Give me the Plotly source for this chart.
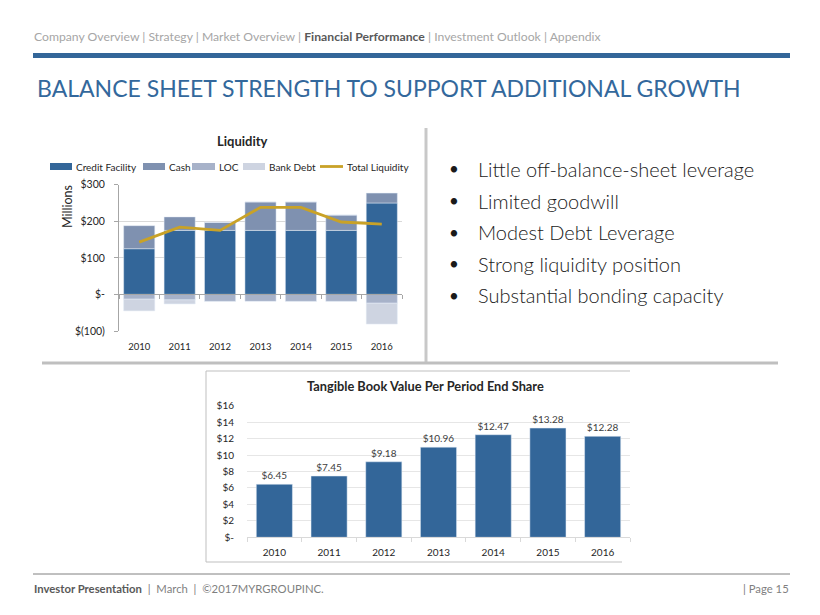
import plotly.graph_objects as go

W, H = 820, 615
OFF = 8  # page body margin: figure paper starts 8px into the window

# ---------------- data ----------------
years = ["2010", "2011", "2012", "2013", "2014", "2015", "2016"]
credit_facility = [125, 175, 175, 175, 175, 175, 250]
cash = [63, 37, 22, 78, 78, 42, 27]
loc = [-13, -15, -19, -19, -19, -19, -24]
bank_debt = [-32, -11, 0, 0, 0, 0, -57]
total_liquidity = [143, 184, 175, 238, 238, 198, 192]

liq_tickvals = [-100, 0, 100, 200, 300]
liq_ticktext = ["$(100)", "$-", "$100", "$200", "$300"]

tbv = [6.45, 7.45, 9.18, 10.96, 12.47, 13.28, 12.28]
tbv_tickvals = [0, 2, 4, 6, 8, 10, 12, 14, 16]
tbv_ticktext = ["$-", "$2", "$4", "$6", "$8", "$10", "$12", "$14", "$16"]

bullets = [
    "Little off-balance-sheet leverage",
    "Limited goodwill",
    "Modest Debt Leverage",
    "Strong liquidity position",
    "Substantial bonding capacity",
]

# ---------------- styles ----------------
FONT = "Lato, 'Open Sans', sans-serif"
BLUE = "#336699"
C_CASH = "#7F91B0"
C_LOC = "#A7B2C9"
C_BANK = "#CED4E1"
C_LINE = "#C9A227"
GRID = "#D9D9D9"


def fx(px):
    return (px - OFF) / W


def fy(py):
    return 1 - (py - OFF) / H


fig = go.Figure()

# Liquidity chart (x, y)
fig.add_trace(go.Bar(x=years, y=credit_facility, name="Credit Facility", marker_color=BLUE,
                     xaxis="x", yaxis="y", showlegend=False))
fig.add_trace(go.Bar(x=years, y=cash, name="Cash", marker_color=C_CASH,
                     xaxis="x", yaxis="y", showlegend=False))
fig.add_trace(go.Bar(x=years, y=loc, name="LOC", marker_color=C_LOC,
                     xaxis="x", yaxis="y", showlegend=False))
fig.add_trace(go.Bar(x=years, y=bank_debt, name="Bank Debt", marker_color=C_BANK,
                     xaxis="x", yaxis="y", showlegend=False))
fig.add_trace(go.Scatter(x=years, y=total_liquidity, name="Total Liquidity", mode="lines",
                         line=dict(color=C_LINE, width=2.8), xaxis="x", yaxis="y", showlegend=False))
# zero-line axis overlay (x3) carries tick marks between categories
fig.add_trace(go.Scatter(x=years, y=[None] * 7, xaxis="x3", yaxis="y", showlegend=False,
                         hoverinfo="skip"))

# Tangible book value chart (x2, y2)
fig.add_trace(go.Bar(x=years, y=tbv, marker_color=BLUE, xaxis="x2", yaxis="y2",
                     showlegend=False, text=[f"${v:.2f}" for v in tbv],
                     textposition="outside", cliponaxis=False, width=0.66,
                     textfont=dict(family=FONT, size=10, color="#404040")))

liq_x0, liq_x1 = 119, 402
liq_ytop, liq_ybot = 184.7, 331
zero_py = liq_ybot - (liq_ybot - liq_ytop) * 100 / 400

tbv_x0, tbv_x1 = 247, 630
tbv_ytop, tbv_ybot = 405.7, 537.3

liq_tick_font = dict(family=FONT, size=10.5, color="#262626")
liq_xtick_font = dict(family=FONT, size=9.5, color="#262626")
tbv_tick_font = dict(family=FONT, size=10, color="#262626")

fig.update_layout(
    width=W, height=H,
    margin=dict(l=0, r=0, t=0, b=0),
    paper_bgcolor="white", plot_bgcolor="rgba(0,0,0,0)",
    barmode="relative",
    bargap=0.23,
    font=dict(family=FONT),
    xaxis=dict(domain=[fx(liq_x0), fx(liq_x1)], anchor="y", showline=False, ticks="",
               tickfont=liq_xtick_font, showgrid=False, fixedrange=True,
               ticklabelstandoff=8, automargin=False),
    xaxis3=dict(domain=[fx(liq_x0), fx(liq_x1)], anchor="free", overlaying="x",
                position=fy(zero_py), showline=True, linecolor="#A6A6A6", linewidth=1,
                ticks="outside", tickson="boundaries", ticklen=4, tickcolor="#A6A6A6",
                showticklabels=False, showgrid=False, matches="x", automargin=False),
    yaxis=dict(domain=[fy(liq_ybot), fy(liq_ytop)], range=[-100, 300], anchor="x",
               tickvals=liq_tickvals, ticktext=liq_ticktext, tickfont=liq_tick_font,
               showgrid=True, gridcolor=GRID, gridwidth=1, zeroline=False,
               showline=True, linecolor="#A6A6A6", ticks="outside", ticklen=4,
               tickcolor="#A6A6A6", ticklabelstandoff=7, automargin=False),
    xaxis2=dict(domain=[fx(tbv_x0), fx(tbv_x1)], anchor="y2", showline=True,
                linecolor=GRID, ticks="outside", tickson="boundaries", ticklen=4,
                tickcolor=GRID, tickfont=tbv_tick_font, showgrid=False,
                ticklabelstandoff=6, automargin=False),
    yaxis2=dict(domain=[fy(tbv_ybot), fy(tbv_ytop)], range=[0, 16], anchor="x2",
                tickvals=tbv_tickvals, ticktext=tbv_ticktext, tickfont=tbv_tick_font,
                showgrid=True, gridcolor="#E6E6E6", zeroline=False, showline=False,
                ticklabelstandoff=12, automargin=False),
)

shapes = []
ann = []

# header nav
nav = ("<span style='color:#A6A6A6'>Company Overview | Strategy | Market Overview | </span>"
       "<b><span style='color:#595959'>Financial Performance</span></b>"
       "<span style='color:#A6A6A6'> | Investment Outlook | Appendix</span>")
ann.append(dict(x=fx(32), y=fy(37), xref="paper", yref="paper", text=nav, showarrow=False,
                xanchor="left", yanchor="middle", font=dict(family=FONT, size=12.2)))
shapes.append(dict(type="rect", xref="paper", yref="paper", x0=fx(33), x1=fx(790),
                   y0=fy(58), y1=fy(53), fillcolor="#336699", line=dict(width=0)))
ann.append(dict(x=fx(35), y=fy(88), xref="paper", yref="paper",
                text="BALANCE SHEET STRENGTH TO SUPPORT ADDITIONAL GROWTH", showarrow=False,
                xanchor="left", yanchor="middle", font=dict(family=FONT, size=23, color="#33689C")))

# dividers
shapes.append(dict(type="line", xref="paper", yref="paper", x0=fx(426), x1=fx(426),
                   y0=fy(128), y1=fy(362), line=dict(color="#C8C8C8", width=3)))
shapes.append(dict(type="line", xref="paper", yref="paper", x0=fx(42), x1=fx(778),
                   y0=fy(363), y1=fy(363), line=dict(color="#BFBFBF", width=3)))

# liquidity title and axis title
ann.append(dict(x=fx(243), y=fy(141), xref="paper", yref="paper", text="<b>Liquidity</b>",
                showarrow=False, xanchor="center", yanchor="middle",
                font=dict(family=FONT, size=13, color="#262626")))
ann.append(dict(x=fx(67), y=fy(206), xref="paper", yref="paper", text="Millions",
                showarrow=False, textangle=-90, xanchor="center", yanchor="middle",
                font=dict(family=FONT, size=12.5, color="#262626")))

# liquidity legend
leg_y = 166.5
legend_items = [
    ("Credit Facility", BLUE, 50, 72, "bar"),
    ("Cash", C_CASH, 143, 165, "bar"),
    ("LOC", C_LOC, 192, 215, "bar"),
    ("Bank Debt", C_BANK, 243, 265, "bar"),
    ("Total Liquidity", C_LINE, 320, 343, "line"),
]
for label, col, sx0, sx1, kind in legend_items:
    if kind == "bar":
        shapes.append(dict(type="rect", xref="paper", yref="paper", x0=fx(sx0), x1=fx(sx1),
                           y0=fy(leg_y + 3.5), y1=fy(leg_y - 3.5), fillcolor=col,
                           line=dict(width=0)))
    else:
        shapes.append(dict(type="line", xref="paper", yref="paper", x0=fx(sx0), x1=fx(sx1),
                           y0=fy(leg_y), y1=fy(leg_y), line=dict(color=col, width=2.8)))
    ann.append(dict(x=fx(sx1 + 1.5), y=fy(leg_y), xref="paper", yref="paper", text=label,
                    showarrow=False, xanchor="left", yanchor="middle",
                    font=dict(family=FONT, size=10, color="#262626")))

# bullets
b_y0, b_dy = 169, 31.5
for i, b in enumerate(bullets):
    ann.append(dict(x=fx(447), y=fy(b_y0 + i * b_dy), xref="paper", yref="paper", text="•",
                    showarrow=False, xanchor="left", yanchor="middle",
                    font=dict(family=FONT, size=17, color="#1a1a1a")))
    ann.append(dict(x=fx(476), y=fy(b_y0 + i * b_dy), xref="paper", yref="paper", text=b,
                    showarrow=False, xanchor="left", yanchor="middle",
                    font=dict(family=FONT, size=20, color="#1a1a1a", weight=300)))

# TBV box
box_col = "#BFBFBF"
shapes.append(dict(type="line", xref="paper", yref="paper", x0=fx(206), x1=fx(630),
                   y0=fy(371), y1=fy(371), line=dict(color=box_col, width=1)))
shapes.append(dict(type="line", xref="paper", yref="paper", x0=fx(206), x1=fx(206),
                   y0=fy(371), y1=fy(562), line=dict(color=box_col, width=1)))
shapes.append(dict(type="line", xref="paper", yref="paper", x0=fx(206), x1=fx(622),
                   y0=fy(562), y1=fy(562), line=dict(color=box_col, width=1)))
ann.append(dict(x=fx(425), y=fy(386), xref="paper", yref="paper",
                text="<b>Tangible Book Value Per Period End Share</b>", showarrow=False,
                xanchor="center", yanchor="middle", font=dict(family=FONT, size=12.8, color="#262626")))

# footer
shapes.append(dict(type="line", xref="paper", yref="paper", x0=fx(33), x1=fx(790),
                   y0=fy(574), y1=fy(574), line=dict(color="#808080", width=1)))
foot = ("<b><span style='color:#595959'>Investor Presentation</span></b>"
        "<span style='color:#7F7F7F'>  |  March  |  ©2017MYRGROUPINC.</span>")
ann.append(dict(x=fx(32), y=fy(588), xref="paper", yref="paper", text=foot, showarrow=False,
                xanchor="left", yanchor="middle", font=dict(family=FONT, size=11.3)))
ann.append(dict(x=fx(791), y=fy(588), xref="paper", yref="paper", text="| Page 15",
                showarrow=False, xanchor="right", yanchor="middle",
                font=dict(family=FONT, size=11.3, color="#7F7F7F")))

fig.update_layout(shapes=shapes, annotations=ann)
fig.write_html("out.html")
